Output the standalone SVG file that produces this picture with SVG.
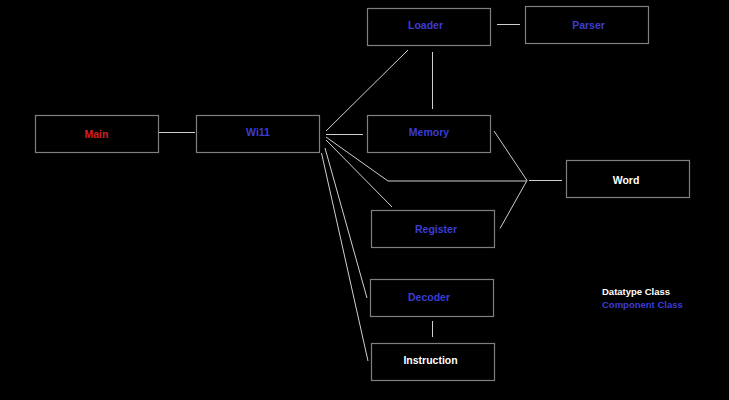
<svg xmlns="http://www.w3.org/2000/svg" width="729" height="400" viewBox="0 0 729 400">
<style>
.box{fill:#000;stroke:#7f7f7f;stroke-width:1.2}
.t{font-family:"Liberation Sans",Arial,sans-serif;font-size:10.5px;font-weight:bold;text-anchor:middle}
.blue{fill:#3c3cd4}
.red{fill:#d42020}
.white{fill:#ffffff}
.c line,.c polyline{stroke:#cfcfcf;stroke-width:1;fill:none}
.lg{font-family:"Liberation Sans",Arial,sans-serif;font-size:9.5px;font-weight:bold}
</style>
<rect x="0" y="0" width="729" height="400" fill="#000"/>
<g class="c" id="connectors">
<line x1="159" y1="132.5" x2="195" y2="132.5"/>
<line x1="326" y1="131" x2="408" y2="50"/>
<line x1="326" y1="134.5" x2="363" y2="134.5"/>
<line x1="497" y1="24.5" x2="520" y2="24.5"/>
<line x1="432.5" y1="52" x2="432.5" y2="109"/>
<polyline points="326,137 388,181 527,181"/>
<line x1="326" y1="140" x2="392" y2="207"/>
<line x1="494" y1="131" x2="527" y2="180.5"/>
<line x1="500" y1="228.5" x2="527" y2="180.5"/>
<line x1="529" y1="180.5" x2="562" y2="180.5"/>
<line x1="325" y1="148" x2="367" y2="298"/>
<line x1="321.5" y1="153" x2="368" y2="361"/>
<line x1="432.5" y1="321" x2="432.5" y2="337"/>
</g>
<g id="main"><rect class="box" x="35.5" y="115.5" width="123" height="37"/><text class="t red" x="96.5" y="138">Main</text></g>
<g id="wi11"><rect class="box" x="196.5" y="115.5" width="123" height="37"/><text class="t blue" x="258" y="136">Wi11</text></g>
<g id="loader"><rect class="box" x="367.5" y="8.5" width="123" height="37"/><text class="t blue" x="425.5" y="29">Loader</text></g>
<g id="parser"><rect class="box" x="525.5" y="6.5" width="123" height="37"/><text class="t blue" x="588.5" y="29">Parser</text></g>
<g id="memory"><rect class="box" x="367.5" y="115.5" width="123" height="37"/><text class="t blue" x="429" y="135.5">Memory</text></g>
<g id="word"><rect class="box" x="566.5" y="160.5" width="123" height="37"/><text class="t white" x="626" y="183.5">Word</text></g>
<g id="register"><rect class="box" x="371.5" y="210.5" width="123" height="37"/><text class="t blue" x="436" y="233">Register</text></g>
<g id="decoder"><rect class="box" x="370.5" y="279.5" width="123" height="37"/><text class="t blue" x="429" y="301">Decoder</text></g>
<g id="instruction"><rect class="box" x="371.5" y="343.5" width="123" height="37"/><text class="t white" x="430.5" y="363.5">Instruction</text></g>
<g id="legend">
<text class="lg white" x="602" y="295">Datatype Class</text>
<text class="lg blue" x="602" y="307.5">Component Class</text>
</g>
</svg>
